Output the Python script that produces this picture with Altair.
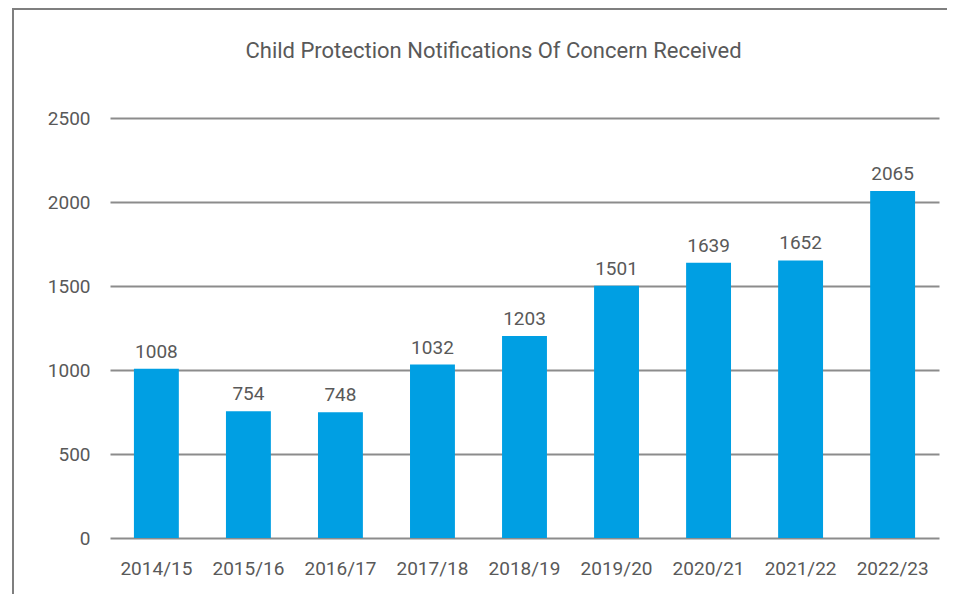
import altair as alt
import pandas as pd

years = ["2014/15", "2015/16", "2016/17", "2017/18", "2018/19",
         "2019/20", "2020/21", "2021/22", "2022/23"]
values = [1008, 754, 748, 1032, 1203, 1501, 1639, 1652, 2065]
y_ticks = [0, 500, 1000, 1500, 2000, 2500]

df = pd.DataFrame({"year": years, "value": values})

FONT = "Roboto, Liberation Sans, sans-serif"
TEXT = "#595959"
GRID = "#8c8c8c"
BAR = "#009FE3"
LBL = 19

x = alt.X("year:N", sort=years, title=None,
          scale=alt.Scale(paddingInner=0.512, paddingOuter=0.26),
          axis=alt.Axis(labelAngle=0, domain=False, ticks=False, tickSize=0,
                        labelPadding=21, labelFontSize=LBL, labelFont=FONT,
                        labelColor=TEXT, grid=False))
y = alt.Y("value:Q", title=None,
          scale=alt.Scale(domain=[0, 2500], nice=False),
          axis=alt.Axis(values=y_ticks, format="d", domain=False, ticks=False,
                        tickSize=0, labelPadding=20, labelFontSize=LBL,
                        labelFont=FONT, labelColor=TEXT, gridColor=GRID,
                        gridWidth=2, gridOpacity=1))

base = alt.Chart(df)
bars = base.mark_bar(color=BAR).encode(x=x, y=y)
labels = base.mark_text(baseline="alphabetic", dy=-11, fontSize=LBL,
                        font=FONT, color=TEXT).encode(
    x=alt.X("year:N", sort=years),
    y=alt.Y("value:Q"),
    text=alt.Text("value:Q", format="d"))

frame_left = alt.Chart(df).mark_rule(color="#7f7f7f", strokeWidth=2).encode(
    x=alt.value(-97), y=alt.value(-110), y2=alt.value(480))
frame_top = alt.Chart(df).mark_rule(color="#7f7f7f", strokeWidth=2).encode(
    x=alt.value(-98), x2=alt.value(860), y=alt.value(-109))

chart = alt.layer(bars, labels, frame_left, frame_top).properties(
    width=829, height=420,
    autosize=alt.AutoSizeParams(type="none"),
    padding={"left": 102, "top": 110, "right": 8, "bottom": 56},
    title=alt.TitleParams(
        "Child Protection Notifications Of Concern Received",
        fontSize=22, font=FONT, color=TEXT, fontWeight="normal",
        anchor="middle", dx=-31, offset=-73, baseline="alphabetic"),
).configure_view(stroke=None)

chart.save("out.html", embed_options={"renderer": "svg", "actions": False})
